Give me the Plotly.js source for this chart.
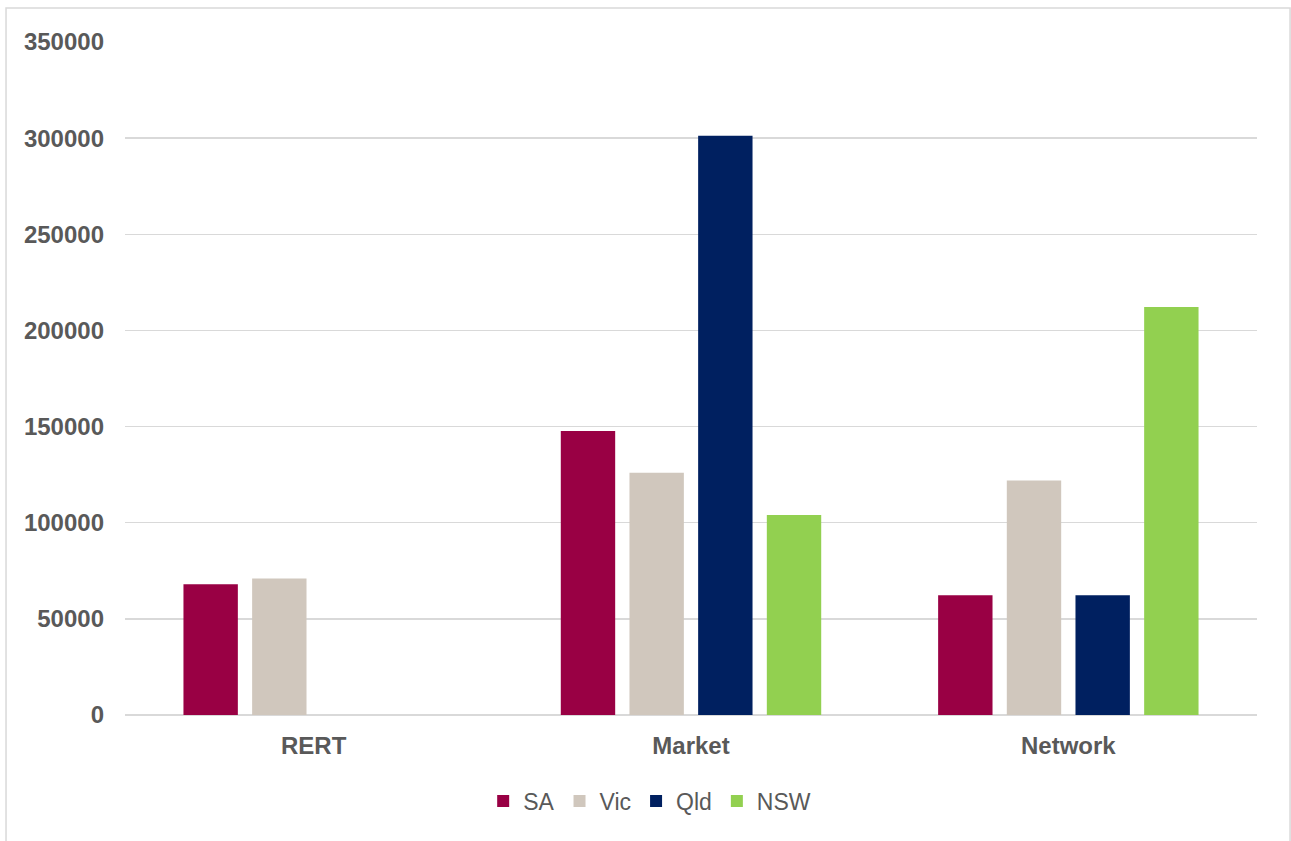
<!DOCTYPE html>
<html>
<head>
<meta charset="utf-8">
<script src="https://cdn.plot.ly/plotly-3.0.1.min.js"></script>
<style>
  html, body { margin: 0; padding: 0; background: #ffffff; }
  #chart { width: 1291px; height: 841px; }
</style>
</head>
<body>
<div id="chart"></div>
<script>
// Categories along the x axis
const categories = ['RERT', 'Market', 'Network'];

// One series per state
const seriesNames = ['SA', 'Vic', 'Qld', 'NSW'];
const saValues  = [68000, 147700, 62300];
const vicValues = [71000, 126000, 122000];
const qldValues = [null, 301300, 62300];
const nswValues = [null, 104000, 212200];

// Y axis ticks
const yTicks = [0, 50000, 100000, 150000, 200000, 250000, 300000, 350000];

const seriesValues = [saValues, vicValues, qldValues, nswValues];
const seriesColors = ['#990044', '#D0C7BD', '#002060', '#92D050'];

const traces = seriesNames.map((name, i) => ({
  type: 'bar',
  name: name,
  x: categories,
  y: seriesValues[i],
  marker: { color: seriesColors[i], line: { width: 0 } },
  hoverinfo: 'x+y+name'
}));

const textColor = '#595959';
const gridColor = '#D9D9D9';

const layout = {
  width: 1291,
  height: 841,
  paper_bgcolor: '#ffffff',
  plot_bgcolor: '#ffffff',
  font: { family: '"Liberation Sans", Arial, sans-serif', color: textColor },
  margin: { l: 125, r: 34, t: 42, b: 126 },
  barmode: 'group',
  bargap: 0.272,
  bargroupgap: 0.208,
  showlegend: true,
  legend: {
    orientation: 'h',
    x: 0.4635,
    xanchor: 'center',
    y: -0.128,
    yanchor: 'middle',
    font: { size: 23, color: textColor },
    itemwidth: 30,
    traceorder: 'normal'
  },
  xaxis: {
    type: 'category',
    showgrid: false,
    showline: false,
    ticks: '',
    tickfont: { size: 24, color: textColor, weight: 'bold' },
    ticklabelstandoff: 14
  },
  yaxis: {
    range: [0, 350000],
    tickvals: yTicks,
    ticktext: yTicks.map(v => String(v)),
    showgrid: true,
    gridcolor: gridColor,
    gridwidth: 1.5,
    zeroline: true,
    zerolinecolor: gridColor,
    zerolinewidth: 1.5,
    showline: false,
    ticks: '',
    tickfont: { size: 24, color: textColor, weight: 'bold' },
    ticklabelstandoff: 20
  },
  shapes: [
    {
      type: 'rect',
      xref: 'paper', yref: 'paper',
      x0: -0.1051, x1: 1.0292,
      y0: -0.25, y1: 1.0505,
      line: { color: gridColor, width: 1.5 },
      fillcolor: 'rgba(0,0,0,0)',
      layer: 'below'
    }
  ]
};

Plotly.newPlot('chart', traces, layout, { displayModeBar: false, staticPlot: true });
</script>
</body>
</html>
